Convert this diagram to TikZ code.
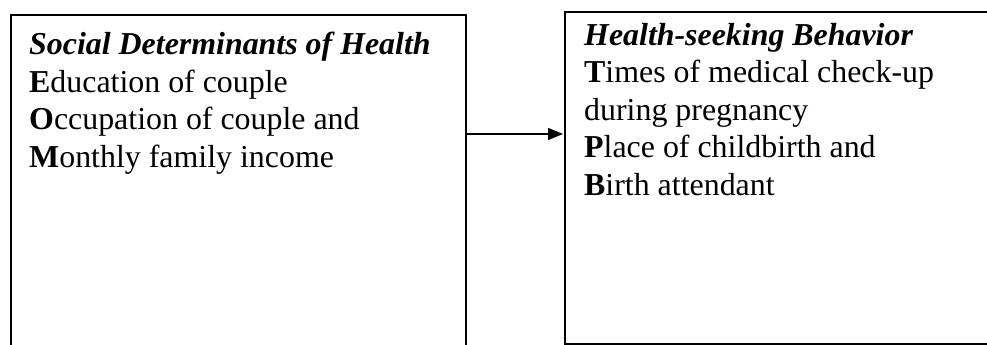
\documentclass[tikz,border=0pt]{standalone}
\usepackage{fontspec}
\setmainfont{Liberation Serif}
\usetikzlibrary{arrows.meta}
\begin{document}
\begin{tikzpicture}[x=1pt,y=1pt,
  boxline/.style={line width=1.7pt, line cap=rect},
  boxtext/.style={anchor=north west, inner sep=0pt, align=left, font=\fontsize{31.9}{37.5}\selectfont},
  link/.style={line width=1.3pt, -{Triangle[length=15pt,width=12pt]}, shorten >=2pt}]
\useasboundingbox (0,0) rectangle (987,345);
% left box (open at the bottom)
\coordinate (Lsw) at (11,-3);
\coordinate (Lnw) at (11,330);
\coordinate (Lne) at (466,330);
\coordinate (Lse) at (466,-3);
\draw[boxline] (Lsw) -- (Lnw) -- (Lne) -- (Lse);
% right box (open at the right)
\coordinate (Rne) at (990,333);
\coordinate (Rnw) at (565,333);
\coordinate (Rsw) at (565,1);
\coordinate (Rse) at (990,1);
\draw[boxline] (Rne) -- (Rnw) -- (Rsw) -- (Rse);
% texts
\node[boxtext] (ltext) at (29,313) {\textbf{\textit{Social Determinants of Health}}\\
  \textbf{E}ducation of couple\\
  \textbf{O}ccupation of couple and\\
  \textbf{M}onthly family income};
\node[boxtext] (rtext) at (584,322) {\textbf{\textit{Health-seeking Behavior}}\\
  \textbf{T}imes of medical check-up\\
  during pregnancy\\
  \textbf{P}lace of childbirth and\\
  \textbf{B}irth attendant};
% connector
\coordinate (aStart) at (466,211);
\coordinate (aEnd) at (565,211);
\draw[link] (aStart) -- (aEnd);
\end{tikzpicture}
\end{document}
